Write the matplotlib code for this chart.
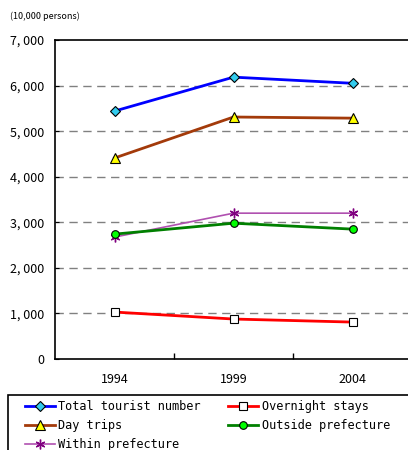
import matplotlib
matplotlib.use("Agg")
import matplotlib.pyplot as plt
from matplotlib.patches import Rectangle
from matplotlib.ticker import FuncFormatter

years = ["1994", "1999", "2004"]
total = [5440, 6185, 6050]
day_trips = [4410, 5310, 5285]
within_pref = [2675, 3200, 3200]
overnight = [1030, 877, 810]
outside_pref = [2740, 2980, 2850]

plt.rcParams["font.family"] = ["Noto Sans CJK JP", "DejaVu Sans"]

fig = plt.figure(figsize=(4.08, 4.5), dpi=100)
ax = fig.add_axes([55 / 408, 1 - 359 / 450, 357 / 408, 319 / 450])

x = list(range(len(years)))
h_total, = ax.plot(x, total, color="#0000FF", lw=2, marker="D", ms=5,
                   mfc="#33CCEE", mec="black", mew=0.8, label="Total tourist number")
h_day, = ax.plot(x, day_trips, color="#A33A0A", lw=2, marker="^", ms=7,
                 mfc="#FFFF00", mec="black", mew=0.8, label="Day trips")
h_within, = ax.plot(x, within_pref, color="#B050B0", lw=1.2, marker=(6, 2, 0), ms=7,
                    mec="#800080", mew=1.0, label="Within prefecture")
h_over, = ax.plot(x, overnight, color="#FF0000", lw=2, marker="s", ms=5.5,
                  mfc="white", mec="black", mew=0.8, label="Overnight stays")
h_out, = ax.plot(x, outside_pref, color="#008000", lw=2, marker="o", ms=5.5,
                 mfc="#00FF00", mec="black", mew=0.8, label="Outside prefecture")

ax.set_xlim(-0.5, 2.5)
ax.set_ylim(0, 7000)
ax.set_yticks(range(0, 7001, 1000))
ax.yaxis.set_major_formatter(FuncFormatter(lambda v, p: f"{int(v):,}".replace(",", ", ")))
for yv in range(1000, 7000, 1000):
    ax.axhline(yv, color="#808080", lw=1, ls=(0, (6, 4)), zorder=0)

ax.set_xticks(x)
ax.set_xticklabels(years)
ax.set_xticks([0.5, 1.5], minor=True)
ax.tick_params(axis="x", which="major", length=0, pad=10, labelsize=9)
ax.tick_params(axis="x", which="minor", direction="in", length=4, width=1)
ax.tick_params(axis="y", direction="in", length=3, labelsize=9, pad=8)
ax.spines["right"].set_visible(False)
for s in ["left", "bottom", "top"]:
    ax.spines[s].set_linewidth(1.2)

fig.text(10 / 408, 1 - 16 / 450, "(10,000 persons)", fontsize=6.5, va="center", ha="left")

fig.patches.append(Rectangle((8 / 408, -0.1), 2.0, 0.1 + 1 - 395 / 450,
                             transform=fig.transFigure, fill=False, ec="black", lw=1.2))
fig.legend(handles=[h_total, h_day, h_within, h_over, h_out], ncol=2,
           loc="upper left", bbox_to_anchor=(25 / 408, 1 - 400 / 450),
           frameon=False, prop={"family": "DejaVu Sans Mono", "size": 8.6},
           handlelength=2.5, handletextpad=0.3, columnspacing=2.3,
           labelspacing=0.5, borderaxespad=0, borderpad=0)

fig.savefig("out.png", dpi=100)
